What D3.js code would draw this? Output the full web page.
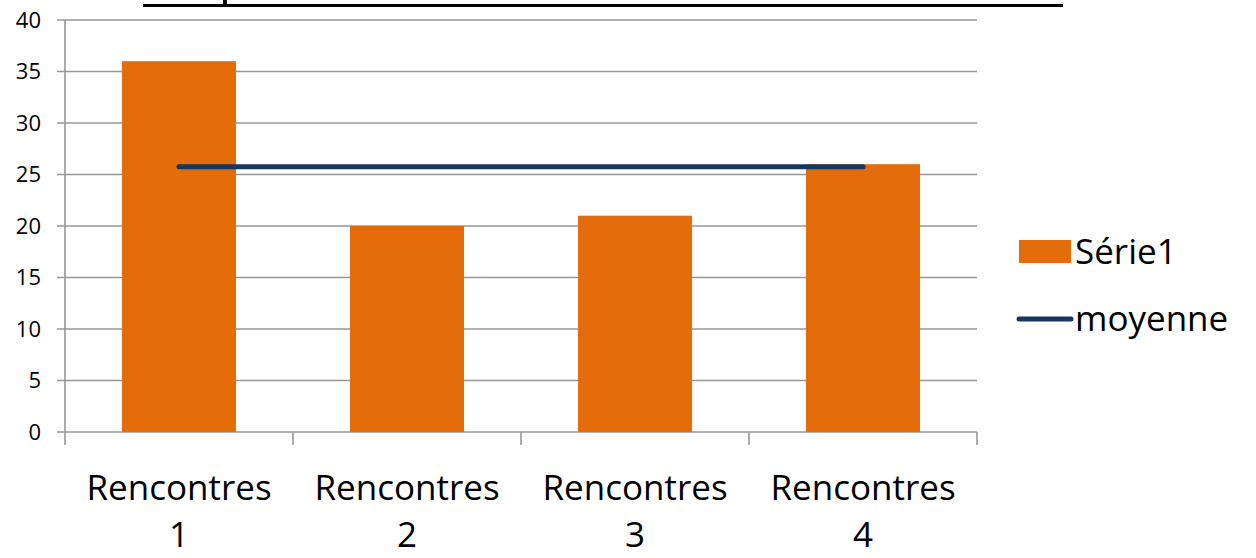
<!DOCTYPE html>
<html>
<head>
<meta charset="utf-8">
<script src="https://cdn.jsdelivr.net/npm/d3@7"></script>
<style>
  body { margin: 0; background: #fff; }
  text { font-family: "Open Sans", "Noto Sans", sans-serif; fill: #000; }
</style>
</head>
<body>
<div id="chart"></div>
<script>
// data
const categories = ["Rencontres 1", "Rencontres 2", "Rencontres 3", "Rencontres 4"];
const serie1 = [36, 20, 21, 26];
const moyenne = [25.75, 25.75, 25.75, 25.75];
const yTicks = [0, 5, 10, 15, 20, 25, 30, 35, 40];
const legendLabels = ["Série1", "moyenne"];

const W = 1256, H = 558;
const margin = {top: 20, right: 279, bottom: 126, left: 65};
const width = W - margin.left - margin.right,
      height = H - margin.top - margin.bottom;

const root = d3.select("#chart").append("svg")
    .attr("width", W)
    .attr("height", H);

// cut-off title: only the underline and a descender remain visible
root.append("line")
    .attr("x1", 143).attr("x2", 1063)
    .attr("y1", 5.5).attr("y2", 5.5)
    .attr("stroke", "#000").attr("stroke-width", 3);
root.append("rect")
    .attr("x", 223).attr("y", 0).attr("width", 4).attr("height", 6)
    .attr("fill", "#000");

const svg = root.append("g")
    .attr("transform", `translate(${margin.left},${margin.top})`);

let x = d3.scaleBand()
    .domain(categories)
    .range([0, width])
    .paddingInner(0.5)
    .paddingOuter(0.25);

let y = d3.scaleLinear()
    .domain([0, 40])
    .range([height, 0]);

// gridlines
svg.append("g")
  .selectAll("line")
  .data(yTicks)
  .enter()
  .append("line")
    .attr("x1", -8)
    .attr("x2", width)
    .attr("y1", d => y(d))
    .attr("y2", d => y(d))
    .attr("stroke", "#979797")
    .attr("stroke-width", 1.6);

// y axis line
svg.append("line")
    .attr("x1", 0).attr("x2", 0)
    .attr("y1", 0).attr("y2", height)
    .attr("stroke", "#979797").attr("stroke-width", 1.6);

// y labels
svg.append("g")
  .selectAll("text")
  .data(yTicks)
  .enter()
  .append("text")
    .attr("x", -24)
    .attr("y", d => y(d))
    .attr("dy", "0.36em")
    .attr("text-anchor", "end")
    .style("font-size", "22px")
    .text(d => d);

// x axis tick marks at band boundaries
const step = x.step();
svg.append("g")
  .selectAll("line")
  .data(d3.range(categories.length + 1))
  .enter()
  .append("line")
    .attr("x1", i => i * step)
    .attr("x2", i => i * step)
    .attr("y1", height)
    .attr("y2", height + 13)
    .attr("stroke", "#979797")
    .attr("stroke-width", 1.6);

// bars
svg.append("g")
  .selectAll("rect")
  .data(serie1)
  .enter()
  .append("rect")
    .attr("x", (d, i) => x(categories[i]))
    .attr("y", d => y(d))
    .attr("width", x.bandwidth())
    .attr("height", d => height - y(d))
    .attr("fill", "#E46C0A");

// moyenne line
svg.append("path")
    .datum(moyenne)
    .attr("fill", "none")
    .attr("stroke", "#17375E")
    .attr("stroke-width", 5)
    .attr("stroke-linecap", "round")
    .attr("d", d3.line()
      .x((d, i) => x(categories[i]) + x.bandwidth() / 2)
      .y(d => y(d)));

// x labels, wrapped on two lines (one text per line)
const xg = svg.append("g");
categories.forEach(d => {
  const parts = d.split(" ");
  const cx = x(d) + x.bandwidth() / 2;
  xg.append("text")
      .attr("x", cx).attr("y", height + 68)
      .attr("text-anchor", "middle")
      .style("font-size", "35px")
      .text(parts[0]);
  xg.append("text")
      .attr("x", cx).attr("y", height + 115)
      .attr("text-anchor", "middle")
      .style("font-size", "35px")
      .text(parts[1]);
});

// legend
const lg = root.append("g");
lg.append("rect")
    .attr("x", 1019).attr("y", 240).attr("width", 52).attr("height", 23)
    .attr("fill", "#E46C0A");
lg.append("text")
    .attr("x", 1075).attr("y", 264)
    .style("font-size", "35px")
    .text(legendLabels[0]);
lg.append("line")
    .attr("x1", 1019).attr("x2", 1071)
    .attr("y1", 319).attr("y2", 319)
    .attr("stroke", "#17375E").attr("stroke-width", 5)
    .attr("stroke-linecap", "round");
lg.append("text")
    .attr("x", 1075).attr("y", 331)
    .style("font-size", "35px")
    .text(legendLabels[1]);
</script>
</body>
</html>
